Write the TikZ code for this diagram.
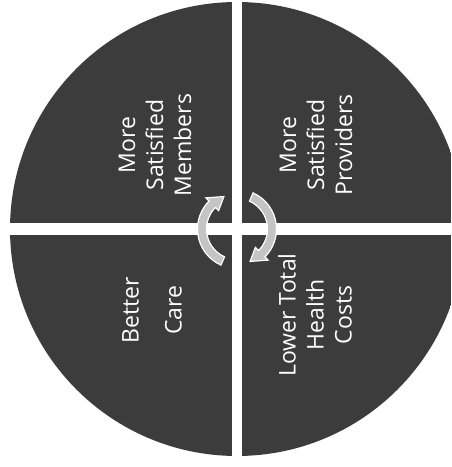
\documentclass[tikz,border=0pt]{standalone}
\usepackage{fontspec}
\usepackage{xcolor}
\newfontfamily\quadfont{Open Sans}
\definecolor{quadgray}{HTML}{3C3C3C}
\definecolor{arrowgray}{HTML}{C4C4C4}

\tikzset{
  quadfill/.style={fill=quadgray},
  quadtext/.style={text=white, rotate=90, align=center, inner sep=0,
    font=\quadfont\fontsize{23}{28}\selectfont},
  cyclearrow/.style={fill=arrowgray, draw=white, line width=1.2pt, line join=miter}
}

\begin{document}
\begin{tikzpicture}[x=1pt, y=1pt]
    \fill[white] (0,0) rectangle (451,467);
    \clip (0,0) rectangle (451,467);

    % four quarters of the circle
    \begin{scope}
        \clip (237,238) circle (227);
        \fill[quadfill] (0,244) rectangle (232,467);
        \fill[quadfill] (242,244) rectangle (451,467);
        \fill[quadfill] (0,0) rectangle (232,232);
        \fill[quadfill] (242,0) rectangle (451,232);
    \end{scope}

    % the two arrows in the middle
    \begin{scope}[shift={(237,238)}]
        \filldraw[cyclearrow] (66:39.5) arc[start angle=66, end angle=-45, radius=39.5]
            -- (-45:44) -- (-68:35) -- (-45:26) -- (-45:30.5)
            arc[start angle=-45, end angle=66, radius=30.5] -- cycle;
        \filldraw[cyclearrow] (246:39.5) arc[start angle=246, end angle=135, radius=39.5]
            -- (135:44) -- (112:35) -- (135:26) -- (135:30.5)
            arc[start angle=135, end angle=246, radius=30.5] -- cycle;
    \end{scope}

    \node[quadtext] (members) at (155,322) {More\\Satisfied\\Members};
    \node[quadtext] (providers) at (316,322) {More\\Satisfied\\Providers};
    \node[quadtext] (better) at (152,157) {Better\\[15pt]Care};
    \node[quadtext] (lower) at (315,152) {Lower Total\\Health\\Costs};
\end{tikzpicture}
\end{document}
